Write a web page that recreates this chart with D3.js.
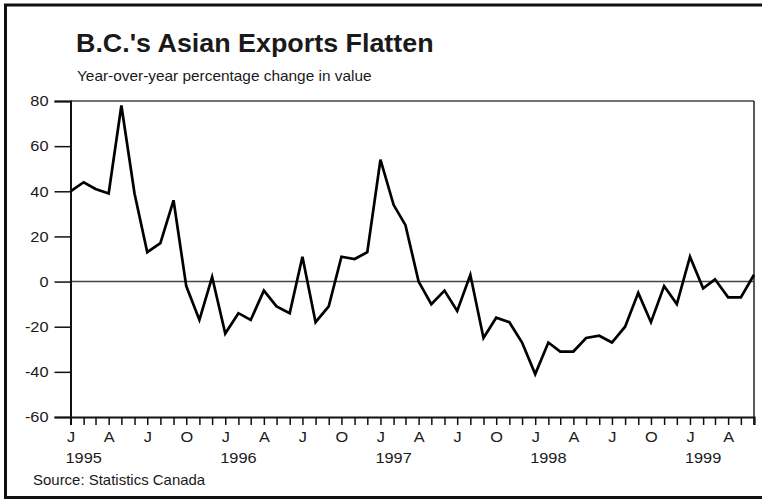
<!DOCTYPE html>
<html>
<head>
<meta charset="utf-8">
<script src="https://cdn.jsdelivr.net/npm/d3@7"></script>
<style>
  html, body { margin: 0; padding: 0; background: #fff; }
  svg { display: block; font-family: "Liberation Sans", Arial, Helvetica, sans-serif; }
</style>
</head>
<body>
<svg id="chart" width="762" height="499"></svg>
<script>
// Monthly year-over-year % change in B.C. exports to Asia, Jan 1995 - Jun 1999
const firstMonth = "1995-01";
const yoyChange = [
  40, 44, 41, 39, 78, 39, 13, 17, 36, -2, -17, 2,        // 1995
  -23, -14, -17, -4, -11, -14, 11, -18, -11, 11, 10, 13,  // 1996
  54, 34, 25, 0, -10, -4, -13, 3, -25, -16, -18, -27,     // 1997
  -41, -27, -31, -31, -25, -24, -27, -20, -5, -18, -2, -10, // 1998
  11, -3, 1, -7, -7, 3                                    // 1999
];
const yTicks = [-60, -40, -20, 0, 20, 40, 60, 80];
const quarterLetters = ["J", "A", "J", "O"];
const yearLabels = ["1995", "1996", "1997", "1998", "1999"];

const parseMonth = d3.timeParse("%Y-%m");
const start = parseMonth(firstMonth);
const data = yoyChange.map((v, i) => ({ date: d3.timeMonth.offset(start, i), value: v }));

const svg = d3.select("#chart");
const plot = { left: 70.5, right: 754, top: 101, bottom: 417 };
const wide = 1.09;   // the type is set slightly wide

const x = d3.scaleTime()
  .domain([data[0].date, data[data.length - 1].date])
  .range([plot.left, plot.right]);
const y = d3.scaleLinear().domain([-60, 80]).range([plot.bottom, plot.top]);

// text placed at (px, py), stretched horizontally about its anchor
function label(px, py, str, size, opts = {}) {
  const g = svg.append("g").attr("transform", `translate(${px},${py})`);
  return g.append("text")
    .attr("transform", `scale(${opts.k || wide},1)`)
    .attr("font-size", size)
    .attr("font-weight", opts.bold ? "bold" : "normal")
    .attr("text-anchor", opts.anchor || "start")
    .attr("fill", "#1a1a1a")
    .text(str);
}

// outer frame
svg.append("rect")
  .attr("x", 5.5).attr("y", 5).attr("width", 800).attr("height", 492.5)
  .attr("fill", "none").attr("stroke", "#111").attr("stroke-width", 3);

// title & subtitle
label(76, 52, "B.C.'s Asian Exports Flatten", 25, { bold: true, k: 1.075 });
label(77, 81, "Year-over-year percentage change in value", 14, { k: 1.1 });

// plot frame: top and right edges
svg.append("line").attr("x1", plot.left).attr("x2", plot.right).attr("y1", plot.top).attr("y2", plot.top)
  .attr("stroke", "#444").attr("stroke-width", 1.5);
svg.append("line").attr("x1", plot.right).attr("x2", plot.right).attr("y1", plot.top).attr("y2", plot.bottom + 8)
  .attr("stroke", "#222").attr("stroke-width", 1.5);

// zero line
svg.append("line").attr("x1", plot.left).attr("x2", plot.right).attr("y1", y(0)).attr("y2", y(0))
  .attr("stroke", "#444").attr("stroke-width", 1.5);

// y axis (plain hyphen for negatives)
const yAxis = svg.append("g").attr("transform", `translate(${plot.left},0)`)
  .call(d3.axisLeft(y).tickValues(yTicks).tickSize(16).tickPadding(6).tickFormat(d => String(d)));
yAxis.select(".domain").attr("stroke", "#111").attr("stroke-width", 2);
yAxis.selectAll(".tick line").attr("stroke", "#111").attr("stroke-width", 1.5);
yAxis.selectAll(".tick text")
  .attr("font-size", 15).attr("fill", "#1a1a1a")
  .attr("font-family", "Liberation Sans, Arial, sans-serif")
  .attr("x", -22 / wide)
  .attr("transform", `scale(${wide},1)`);

// x axis: a tick every month, letters every quarter
const months = data.map(d => d.date);
const xAxis = svg.append("g").attr("transform", `translate(0,${plot.bottom})`)
  .call(d3.axisBottom(x).tickValues(months).tickSize(8).tickPadding(6)
    .tickFormat(d => d.getMonth() % 3 === 0 ? quarterLetters[d.getMonth() / 3] : ""));
xAxis.select(".domain").attr("stroke", "#111").attr("stroke-width", 2);
xAxis.selectAll(".tick line").attr("stroke", "#111").attr("stroke-width", 1.5);
xAxis.selectAll(".tick text")
  .attr("font-size", 15).attr("fill", "#1a1a1a")
  .attr("font-family", "Liberation Sans, Arial, sans-serif")
  .attr("transform", `scale(${wide},1)`);

// year labels, centred under February
yearLabels.forEach(yr => label(x(new Date(+yr, 1, 1)), 463, yr, 15, { anchor: "middle" }));

// series line
svg.append("path").datum(data)
  .attr("fill", "none").attr("stroke", "#000").attr("stroke-width", 2.7)
  .attr("stroke-linejoin", "miter").attr("stroke-miterlimit", 4)
  .attr("d", d3.line().x(d => x(d.date)).y(d => y(d.value)));

// source note
label(33, 485, "Source: Statistics Canada", 14, { k: 1.07 });
</script>
</body>
</html>
